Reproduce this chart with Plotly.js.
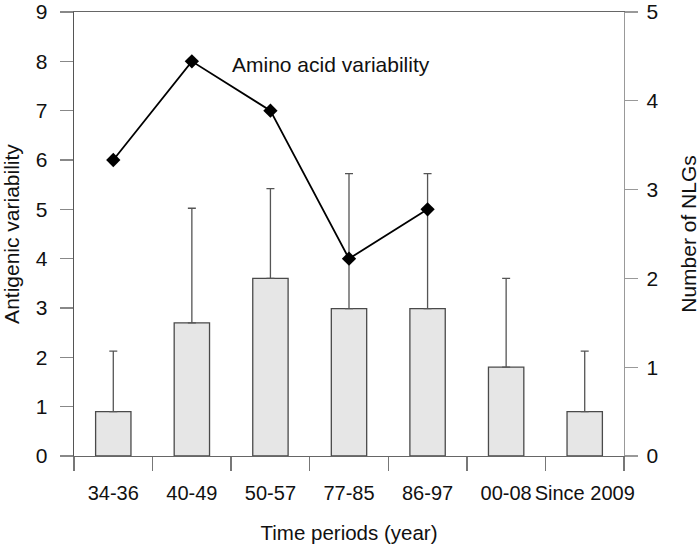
<!DOCTYPE html>
<html>
<head>
<meta charset="utf-8">
<script src="https://cdn.plot.ly/plotly-3.0.1.min.js"></script>
<style>
html,body{margin:0;padding:0;background:#fff;}
#chart{width:700px;height:547px;}
</style>
</head>
<body>
<div id="chart"></div>
<script>
// Data
const categories = ["34-36", "40-49", "50-57", "77-85", "86-97", "00-08", "Since 2009"];
const nlgMeans = [0.5, 1.5, 2.0, 1.66, 1.66, 1.0, 0.5];           // Number of NLGs (right axis)
const nlgErrorPlus = [0.68, 1.29, 1.01, 1.52, 1.52, 1.0, 0.68];    // upper error bars
const variabilityCategories = ["34-36", "40-49", "50-57", "77-85", "86-97"];
const aminoAcidVariability = [6, 8, 7, 4, 5];                      // Antigenic variability (left axis)
const leftTicks = [0, 1, 2, 3, 4, 5, 6, 7, 8, 9];
const rightTicks = [0, 1, 2, 3, 4, 5];
const annotationText = "Amino acid variability";

const FONT = "'Liberation Sans', Arial, sans-serif";

const bars = {
  type: "bar",
  x: categories,
  y: nlgMeans,
  yaxis: "y",
  width: 0.45,
  marker: {color: "#e6e6e6", line: {color: "#4a4a4a", width: 1.3}},
  error_y: {type: "data", symmetric: false, array: nlgErrorPlus, arrayminus: nlgMeans.map(() => 0),
            color: "#555", thickness: 1.3, width: 4},
  hoverinfo: "skip",
  showlegend: false
};

const line = {
  type: "scatter",
  mode: "lines+markers",
  x: variabilityCategories,
  y: aminoAcidVariability,
  yaxis: "y2",
  line: {color: "#000", width: 1.8},
  marker: {symbol: "diamond", size: 11, color: "#000"},
  showlegend: false
};

const layout = {
  width: 700, height: 547,
  margin: {l: 74, r: 76, t: 12, b: 91},
  paper_bgcolor: "#fff", plot_bgcolor: "#fff",
  font: {family: FONT, size: 21, color: "#111"},
  bargap: 0,
  xaxis: {
    type: "category",
    range: [-0.5, 6.5],
    showline: true, linecolor: "#666", linewidth: 1.3, mirror: true,
    showgrid: false, zeroline: false,
    ticks: "outside", tickson: "boundaries", ticklen: 14, tickcolor: "#777", tickwidth: 1.3,
    tickangle: 0,
    ticklabelstandoff: 19,
    tickfont: {family: FONT, size: 20, color: "#111"},
    title: {text: "Time periods (year)", font: {family: FONT, size: 20.5, color: "#111"}, standoff: 22}
  },
  yaxis: {
    side: "right",
    range: [0, 5],
    tickvals: rightTicks,
    ticklabeloverflow: "allow",
    showline: true, linecolor: "#999", linewidth: 1.3,
    showgrid: false, zeroline: false,
    ticks: "outside", ticklen: 13, tickcolor: "#999", tickwidth: 1.3,
    ticklabelstandoff: 4,
    tickfont: {family: FONT, size: 21, color: "#111"},
    title: {text: "Number of NLGs", font: {family: FONT, size: 21, color: "#111"}, standoff: 26}
  },
  yaxis2: {
    side: "left",
    overlaying: "y",
    range: [0, 9],
    tickvals: leftTicks,
    ticklabeloverflow: "allow",
    showline: true, linecolor: "#555", linewidth: 1.3,
    showgrid: false, zeroline: false,
    ticks: "outside", ticklen: 13, tickcolor: "#888", tickwidth: 1.3,
    ticklabelstandoff: 8,
    tickfont: {family: FONT, size: 21, color: "#111"},
    title: {text: "Antigenic variability", font: {family: FONT, size: 21, color: "#111"}, standoff: 16}
  },
  annotations: [{
    text: annotationText, xref: "x", yref: "y2", x: 1.48, y: 7.93,
    xanchor: "left", yanchor: "middle", showarrow: false,
    font: {family: FONT, size: 21, color: "#111"}
  }]
};

Plotly.newPlot("chart", [bars, line], layout, {displayModeBar: false, staticPlot: true});
</script>
</body>
</html>
